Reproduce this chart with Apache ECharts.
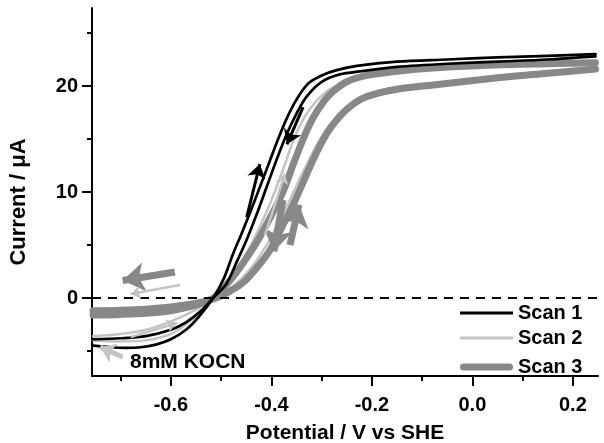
<!DOCTYPE html>
<html><head><meta charset="utf-8">
<script src="https://cdn.jsdelivr.net/npm/echarts@6/dist/echarts.min.js"></script>
<style>html,body{margin:0;padding:0;background:#fff}#c{width:604px;height:443px}</style>
</head><body><div id="c"></div>
<script>
// ---- Scan 1 (black) ----
const scan1FwdPotential = [-0.755,-0.72,-0.69,-0.66,-0.63,-0.60,-0.57,-0.545,-0.516,-0.495,-0.476,-0.46,-0.443,-0.425,-0.405,-0.385,-0.365,-0.345,-0.325,-0.30,-0.27,-0.23,-0.15,-0.05,0.05,0.15,0.245];
const scan1FwdCurrent   = [-4.5,-4.65,-4.7,-4.65,-4.4,-3.9,-3.0,-1.8,0,1.8,4.2,6.0,8.0,10.2,12.7,15.2,17.4,19.1,20.3,21.0,21.5,21.9,22.3,22.5,22.7,22.85,23.0];
const scan1RevPotential = [-0.755,-0.70,-0.65,-0.60,-0.57,-0.54,-0.516,-0.49,-0.47,-0.45,-0.43,-0.41,-0.39,-0.37,-0.35,-0.33,-0.30,-0.264,-0.22,-0.15,-0.05,0.05,0.15,0.245];
const scan1RevCurrent   = [-3.9,-3.8,-3.6,-3.0,-2.3,-1.2,0,1.3,3.3,5.4,7.8,10.4,13.0,15.4,17.4,19.0,20.4,21.1,21.4,21.8,22.1,22.3,22.5,22.8];
// ---- Scan 2 (light grey) ----
const scan2FwdPotential = [-0.755,-0.70,-0.65,-0.60,-0.57,-0.54,-0.515,-0.49,-0.457,-0.43,-0.40,-0.377,-0.355,-0.335,-0.31,-0.28,-0.24,-0.18,-0.10,0.0,0.10,0.245];
const scan2FwdCurrent   = [-4.0,-4.1,-4.0,-3.4,-2.5,-1.3,0,1.5,3.6,6.0,9.2,12.1,15.0,17.0,18.6,19.8,20.6,21.1,21.5,21.8,22.0,22.1];
const scan2RevPotential = [-0.755,-0.70,-0.65,-0.60,-0.55,-0.515,-0.49,-0.46,-0.43,-0.40,-0.37,-0.34,-0.31,-0.28,-0.24,-0.18,-0.10,0.0,0.10,0.245];
const scan2RevCurrent   = [-3.6,-3.4,-3.0,-2.2,-1.1,0,0.6,1.8,3.5,5.8,8.6,11.6,14.4,16.6,18.4,19.4,20.0,20.5,21.0,21.6];
// ---- Scan 3 (grey, thick) ----
const scan3FwdPotential = [-0.755,-0.70,-0.65,-0.60,-0.56,-0.53,-0.515,-0.50,-0.478,-0.455,-0.43,-0.40,-0.377,-0.355,-0.335,-0.317,-0.295,-0.277,-0.25,-0.21,-0.15,-0.078,0.055,0.15,0.245];
const scan3FwdCurrent   = [-1.6,-1.55,-1.45,-1.2,-0.8,-0.35,0,0.7,1.9,3.4,5.2,7.8,10.0,12.8,15.2,17.0,18.6,19.5,20.4,21.0,21.4,21.7,22.0,22.1,22.2];
const scan3RevPotential = [-0.755,-0.70,-0.65,-0.60,-0.55,-0.51,-0.48,-0.453,-0.43,-0.403,-0.38,-0.353,-0.325,-0.303,-0.283,-0.25,-0.21,-0.15,-0.078,0.055,0.15,0.245];
const scan3RevCurrent   = [-1.2,-1.15,-1.05,-0.85,-0.5,0,0.7,1.6,2.8,4.5,6.6,9.2,12.2,14.4,16.0,17.8,19.0,19.7,20.1,20.8,21.2,21.6];
// ---- axes / ticks ----
const xRange = [-0.757, 0.25];
const yRange = [-7.36, 27.36];
const xMajorTicks = [-0.6,-0.4,-0.2,0.0,0.2];
const xMinorTicks = [-0.7,-0.5,-0.3,-0.1,0.1];
const yMajorTicks = [0,10,20];
const yMinorTicks = [-5,5,15,25];
// ---- annotation arrows: [xTail, yTail, xHead, yHead] ----
const blackArrows = [[-0.449,7.64,-0.423,12.64],[-0.337,18.0,-0.369,14.5]];
const lightArrows = [[-0.413,5.9,-0.373,11.7],[-0.582,1.23,-0.68,0.38],[-0.68,-3.68,-0.588,-2.36]];
const lightBigArrows = [[-0.696,-5.57,-0.741,-4.62]];
const greyArrows = [[-0.592,2.45,-0.696,1.65],[-0.377,9.25,-0.395,4.4],[-0.363,5.0,-0.345,8.8]];

const FONT = '"Liberation Sans", Arial, Helvetica, sans-serif';
const zip = (a,b) => a.map((v,i)=>[v,b[i]]);
const arrowLines = (arr, color, width, size) => arr.map(a => [
  {coord:[a[0],a[1]], symbol:'none', lineStyle:{color, width, type:'solid', cap:'butt'}},
  {coord:[a[2],a[3]], symbol:'arrow', symbolSize:size}
]);

const chart = echarts.init(document.getElementById('c'), null, {renderer:'canvas'});
const txt = {fontFamily:FONT, fontWeight:'bold', fontSize:20, color:'#000'};
function lineSeries(name, data, color, width, extra) {
  return Object.assign({
    type:'line', name, data, symbol:'none', showSymbol:false,
    smooth:0.3, color, lineStyle:{color, width, cap:'round', join:'round'},
    emphasis:{disabled:true}, silent:true, animation:false,
    xAxisIndex:0, yAxisIndex:0
  }, extra||{});
}
function arrowMark(lines, color, size) {
  return {silent:true, animation:false, symbol:['none','arrow'], symbolSize:size,
    label:{show:false}, emphasis:{disabled:true},
    itemStyle:{color}, lineStyle:{color, type:'solid'}, data:lines};
}
const legendCommon = {orient:'horizontal', padding:0, itemWidth:53, selectedMode:false, textStyle:txt};
const option = {
  animation:false,
  backgroundColor:'#fff',
  grid:{left:92, right:6, top:8, bottom:67, containLabel:false, outerBoundsMode:'none'},
  xAxis:[
    {type:'value', min:xRange[0], max:xRange[1], position:'bottom',
     axisLine:{show:true, onZero:false, lineStyle:{color:'#000', width:2}},
     axisTick:{show:true, customValues:xMajorTicks, length:10, lineStyle:{color:'#000', width:2}},
     axisLabel:{customValues:xMajorTicks, margin:19, formatter:v=>v.toFixed(1), ...txt},
     splitLine:{show:false},
     name:'Potential / V vs SHE', nameLocation:'middle', nameGap:47,
     nameTextStyle:{...txt, fontSize:21}},
    {type:'value', min:xRange[0], max:xRange[1], position:'bottom',
     axisLine:{show:false, onZero:false},
     axisTick:{show:true, customValues:xMinorTicks, length:5, lineStyle:{color:'#000', width:2}},
     axisLabel:{show:false}, splitLine:{show:false}}
  ],
  yAxis:[
    {type:'value', min:yRange[0], max:yRange[1], position:'left',
     axisLine:{show:true, onZero:false, lineStyle:{color:'#000', width:2}},
     axisTick:{show:true, customValues:yMajorTicks, length:10, lineStyle:{color:'#000', width:2}},
     axisLabel:{customValues:yMajorTicks, margin:14, ...txt},
     splitLine:{show:false},
     name:'Current / μA', nameLocation:'middle', nameGap:62,
     nameTextStyle:{...txt, fontSize:22, padding:[0,20,0,0]}},
    {type:'value', min:yRange[0], max:yRange[1], position:'left',
     axisLine:{show:false, onZero:false},
     axisTick:{show:true, customValues:yMinorTicks, length:5, lineStyle:{color:'#000', width:2}},
     axisLabel:{show:false}, splitLine:{show:false}}
  ],
  legend:[
    {...legendCommon, left:460, top:303, itemHeight:3,
     data:[{name:'Scan 1', icon:'rect', itemStyle:{color:'#000'}}]},
    {...legendCommon, left:460, top:328, itemHeight:3,
     data:[{name:'Scan 2', icon:'rect', itemStyle:{color:'#c4c4c4'}}]},
    {...legendCommon, left:460, top:357, itemHeight:7,
     data:[{name:'Scan 3', icon:'path://M3.5,0L49.5,0A3.5,3.5 0 0 1 49.5,7L3.5,7A3.5,3.5 0 0 1 3.5,0Z', itemStyle:{color:'#888'}}]}
  ],
  graphic:[
    {type:'text', left:130, top:352, silent:true,
     style:{text:'8mM KOCN', font:'bold 21px ' + FONT, fill:'#000'}}
  ],
  series:[
    lineSeries('Scan 2', zip(scan2FwdPotential, scan2FwdCurrent), '#c4c4c4', 2.5),
    lineSeries('Scan 2', zip(scan2RevPotential, scan2RevCurrent), '#c4c4c4', 2.5),
    lineSeries('Scan 3', zip(scan3FwdPotential, scan3FwdCurrent), '#888', 7),
    lineSeries('Scan 3', zip(scan3RevPotential, scan3RevCurrent), '#888', 7,
      {markLine: arrowMark(arrowLines(greyArrows, '#888', 7, 22), '#888', 22)}),
    lineSeries('Scan 1', zip(scan1FwdPotential, scan1FwdCurrent), '#000', 2.7,
      {markLine:{silent:true, animation:false, symbol:['none','none'], label:{show:false},
        emphasis:{disabled:true}, lineStyle:{color:'#000', width:2, type:[9,7]},
        data:[{yAxis:0}]}}),
    lineSeries('Scan 1', zip(scan1RevPotential, scan1RevCurrent), '#000', 2.7,
      {markLine: arrowMark(arrowLines(blackArrows, '#000', 3, 14), '#000', 14)}),
    lineSeries('Scan 2', [], '#c4c4c4', 2.5,
      {markLine: arrowMark(arrowLines(lightArrows, '#c4c4c4', 2.5, 10).concat(arrowLines(lightBigArrows, '#c4c4c4', 5, 15)), '#c4c4c4', 10)})
  ]
};
chart.setOption(option);
</script></body></html>
